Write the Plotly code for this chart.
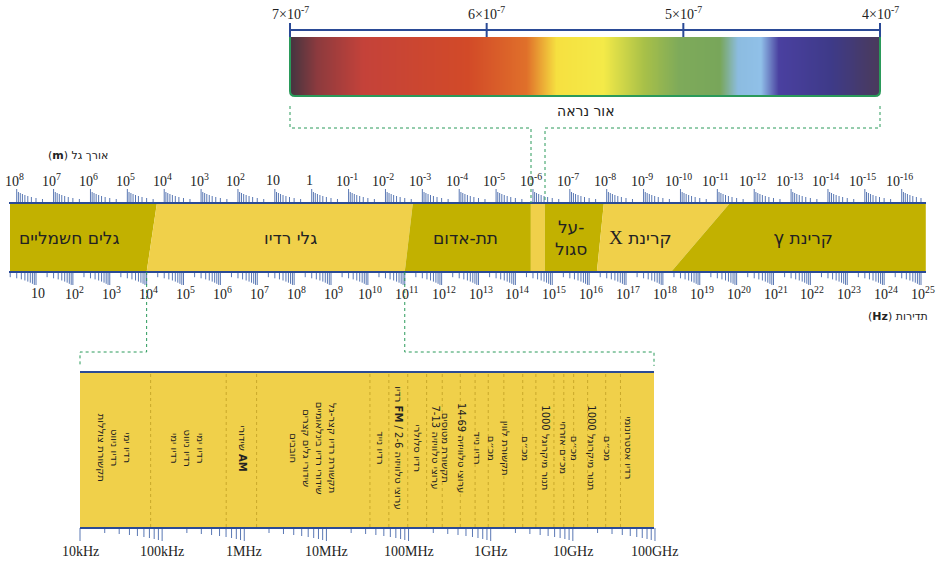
import plotly.graph_objects as go
import numpy as np

# ---------------- data ----------------
freq_exps = list(range(1, 26))                       # bottom labels 10^1 .. 10^25
wave_exps = list(range(8, -17, -1))                  # top labels 10^8 .. 10^-16
band_names = ["גלים חשמליים", "גלי רדיו", "תת-אדום", "", "\u202aעל-\u202c<br>סגול",
              "\u202bקרינת <span style='font-family:Liberation Serif;font-size:19px'>X</span>\u202c",
              "\u202bקרינת γ\u202c"]
band_dark = [True, False, True, False, True, False, True]
# boundaries (log10 Hz) at top edge and bottom edge of the band
bound_top = [0.295, 4.28, 11.22, 14.42, 14.80, 16.40, 19.82, 25.13]
bound_bot = [0.295, 4.00, 11.00, 14.42, 14.80, 16.21, 18.22, 25.13]
band_label_x = [1.9, 7.9, 12.66, None, 15.5, 17.4, 21.8]

vis_ticks = [7, 6, 5, 4]                             # ×10^-7 m
vis_colors = [[0.0, "#4a3540"], [0.04, "#8a3a3e"], [0.12, "#c4423a"], [0.30, "#d24a28"],
              [0.40, "#e0702a"], [0.45, "#f6e040"], [0.53, "#f4ea48"], [0.60, "#a8c048"],
              [0.66, "#7eaa5a"], [0.73, "#78a65a"], [0.76, "#8cbce0"], [0.80, "#90c0e8"],
              [0.83, "#4a40a0"], [0.92, "#3e3a88"], [1.0, "#4a3a5c"]]

zoom_dec = [4, 5, 6, 7, 8, 9, 10, 11]
zoom_labels = ["10kHz", "100kHz", "1MHz", "10MHz", "100MHz", "1GHz", "10GHz", "100GHz"]
zoom_seps = [4.86, 5.78, 6.15, 7.53, 7.76, 7.99, 8.22, 8.41, 8.63, 8.81, 8.97, 9.16, 9.39, 9.55,
             9.77, 9.89, 10.01, 10.18, 10.40, 10.58]
zoom_text_pos = [4.43, 5.32, 5.98, 6.84, 7.66, 7.88, 8.11, 8.34, 8.46, 8.65, 8.84, 9.02,
                 9.19, 9.43, 9.67, 9.89, 10.03, 10.23, 10.43, 10.68]
zoom_texts = ["רדיו ימי<br>רדיו ניווט<br>תקשורת צוללות",
              "רדיו ימי<br>רדיו ניווט<br>רדיו ימי",
              "שידורי <b>AM</b>",
              "תקשורת רדיו קצר-גל<br>שידורי רדיו בינלאומיים<br>שידורי גלים קצרים<br>חובבים",
              "רדיו נייד",
              "רדיו <b>FM</b> / ערוצי טלוויזיה 2-6",
              "רדיו סלולרי",
              "ערוצי טלוויזיה 7-13",
              "תקשורת מטוסים",
              "ערוצי טלוויזיה 14-69",
              "רדיו נייד",
              "מכ״ם",
              "תקשורת לווין",
              "מכ״ם",
              "תנור מיקרוגל 1000",
              "מכ״ם אזרחי",
              "מכ״ם",
              "תנור מיקרוגל 1000",
              "מכ״ם",
              "רדיו אסטרונומי"]

# ---------------- geometry helpers ----------------
def fx(e):            # main band: log10(Hz) -> pixel x
    return -0.875 + 36.875 * e

def zx(e):            # zoom panel: log10(Hz) -> pixel x
    return 80 + 82.14 * (e - 4)

def vx(v):            # visible: ×10^-7 m -> pixel x
    return 290 + (7 - v) * (880 - 290) / 3

TOP, BOT = 203, 272
ZTOP, ZBOT = 372, 528
DARK, LIGHT = "#c2b100", "#f0d04a"
AXC, TICKC = "#2a4a96", "#5a78b4"
GREEN = "#2a9a5a"
NUMF = dict(family="Liberation Serif", size=14, color="#222")
HEBF = dict(family="DejaVu Sans", color="#222")

fig = go.Figure()
shapes, ann = [], []

# band polygons
for i in range(len(band_names)):
    xs = [fx(bound_top[i]), fx(bound_top[i+1]), fx(bound_bot[i+1]), fx(bound_bot[i]), fx(bound_top[i])]
    ys = [TOP, TOP, BOT, BOT, TOP]
    fig.add_trace(go.Scatter(x=xs, y=ys, fill="toself", mode="lines", line=dict(width=0),
                             fillcolor=DARK if band_dark[i] else LIGHT, hoverinfo="skip", showlegend=False))
    if band_names[i]:
        ann.append(dict(x=fx(band_label_x[i]), y=(TOP+BOT)/2, text=band_names[i], showarrow=False,
                        font=dict(HEBF, size=17)))

# ticks on main axes
tx, ty = [], []
for e in range(0, 25):
    for k in range(2, 10):
        x = fx(e + np.log10(k))
        if x > 926: continue
        tx += [x, x, None]; ty += [BOT, BOT + 3 + k * 1.1, None]
    x = fx(e + 1)
    if x <= 926:
        tx += [x, x, None]; ty += [BOT, BOT + 13, None]
lt = np.log10(2.998e8)
for m in range(9, -18, -1):
    x = fx(lt - m)
    if 9 <= x <= 926:
        tx += [x, x, None]; ty += [TOP, TOP - 14, None]
    for k in range(9, 1, -1):
        x = fx(lt - (m - 1) - np.log10(k))
        if 9 <= x <= 926:
            tx += [x, x, None]; ty += [TOP, TOP - (2 + k * 1.0), None]
# zoom panel ticks
for d in zoom_dec:
    x = zx(d)
    tx += [x, x, None]; ty += [ZBOT, ZBOT + 13, None]
    if d < 11:
        for k in range(2, 10):
            x = zx(d + np.log10(k))
            tx += [x, x, None]; ty += [ZBOT, ZBOT + 3 + k * 1.0, None]
fig.add_trace(go.Scatter(x=tx, y=ty, mode="lines", line=dict(color=TICKC, width=1),
                         hoverinfo="skip", showlegend=False))

# axis lines
for (x0, x1, y) in [(9, 926, TOP), (9, 926, BOT), (80, 654, ZBOT)]:
    shapes.append(dict(type="line", x0=x0, x1=x1, y0=y, y1=y, line=dict(color=AXC, width=2)))

def sup(e):
    if e == 0: return "1"
    if e == 1: return "10"
    return f"10<sup>{e}</sup>"

for e in freq_exps:
    ann.append(dict(x=fx(e) + 2, y=293, text=sup(e), showarrow=False, font=NUMF))
for m in wave_exps:
    ann.append(dict(x=fx(lt - m) - 2, y=180, text=sup(m), showarrow=False, font=NUMF))
ann.append(dict(x=78, y=155, text="\u202bאורך גל (<b>m</b>)\u202c", showarrow=False, font=dict(HEBF, size=11)))
ann.append(dict(x=898, y=316, text="\u202bתדירות (<b>Hz</b>)\u202c", showarrow=False, font=dict(HEBF, size=11)))

# visible spectrum
N = 300
xsv = np.linspace(291, 879, N + 1)
zv = [list(np.linspace(0, 1, N))]
fig.add_trace(go.Heatmap(x=xsv, y=[37, 95], z=zv, colorscale=vis_colors, showscale=False,
                         zsmooth="best", hoverinfo="skip"))
shapes.append(dict(type="path", path="M 290 37 L 290 91 Q 290 96 295 96 L 875 96 Q 880 96 880 91 L 880 37",
                   line=dict(color=GREEN, width=2)))
shapes.append(dict(type="line", x0=290, x1=880, y0=30, y1=30, line=dict(color=AXC, width=2)))
for v in vis_ticks:
    shapes.append(dict(type="line", x0=vx(v), x1=vx(v), y0=23, y1=37, line=dict(color=AXC, width=2)))
    ann.append(dict(x=vx(v), y=13, text=f"{v}×10<sup>-7</sup>", showarrow=False, font=NUMF))
ann.append(dict(x=586, y=111, text="אור נראה", showarrow=False, font=dict(HEBF, size=14)))

dash = dict(color=GREEN, width=1, dash="dot")
def poly(pts):
    shapes.append(dict(type="path", path="M " + " L ".join(f"{a} {b}" for a, b in pts), line=dash))
poly([(290, 106), (290, 128), (531, 128), (531, 203)])
poly([(880, 106), (880, 128), (545, 128), (545, 203)])
poly([(fx(4), 272), (fx(4), 352), (80, 352), (80, 366)])
poly([(fx(11), 272), (fx(11), 352), (654, 352), (654, 366)])

# zoom panel
shapes.append(dict(type="rect", x0=80, x1=654, y0=ZTOP, y1=ZBOT, fillcolor=LIGHT, line=dict(width=0), layer="below"))
shapes.append(dict(type="line", x0=80, x1=654, y0=ZTOP, y1=ZTOP, line=dict(color=AXC, width=2)))
for s in zoom_seps:
    shapes.append(dict(type="line", x0=zx(s), x1=zx(s), y0=ZTOP + 2, y1=ZBOT,
                       line=dict(color="#c9a82a", width=1, dash="dot")))
for p, t in zip(zoom_text_pos, zoom_texts):
    ann.append(dict(x=zx(p), y=448, text=t, showarrow=False, textangle=90, font=dict(HEBF, size=10)))
for d, l in zip(zoom_dec, zoom_labels):
    ann.append(dict(x=zx(d), y=551, text=l, showarrow=False, font=NUMF))

fig.update_layout(width=937, height=562, margin=dict(l=0, r=0, t=0, b=0),
                  plot_bgcolor="white", paper_bgcolor="white", shapes=shapes, annotations=ann,
                  xaxis=dict(range=[0, 937], visible=False, fixedrange=True),
                  yaxis=dict(range=[562, 0], visible=False, fixedrange=True))
fig.write_html("out.html", config={"displayModeBar": False},
               post_script="document.body.style.margin='0';document.body.style.overflow='hidden';")
